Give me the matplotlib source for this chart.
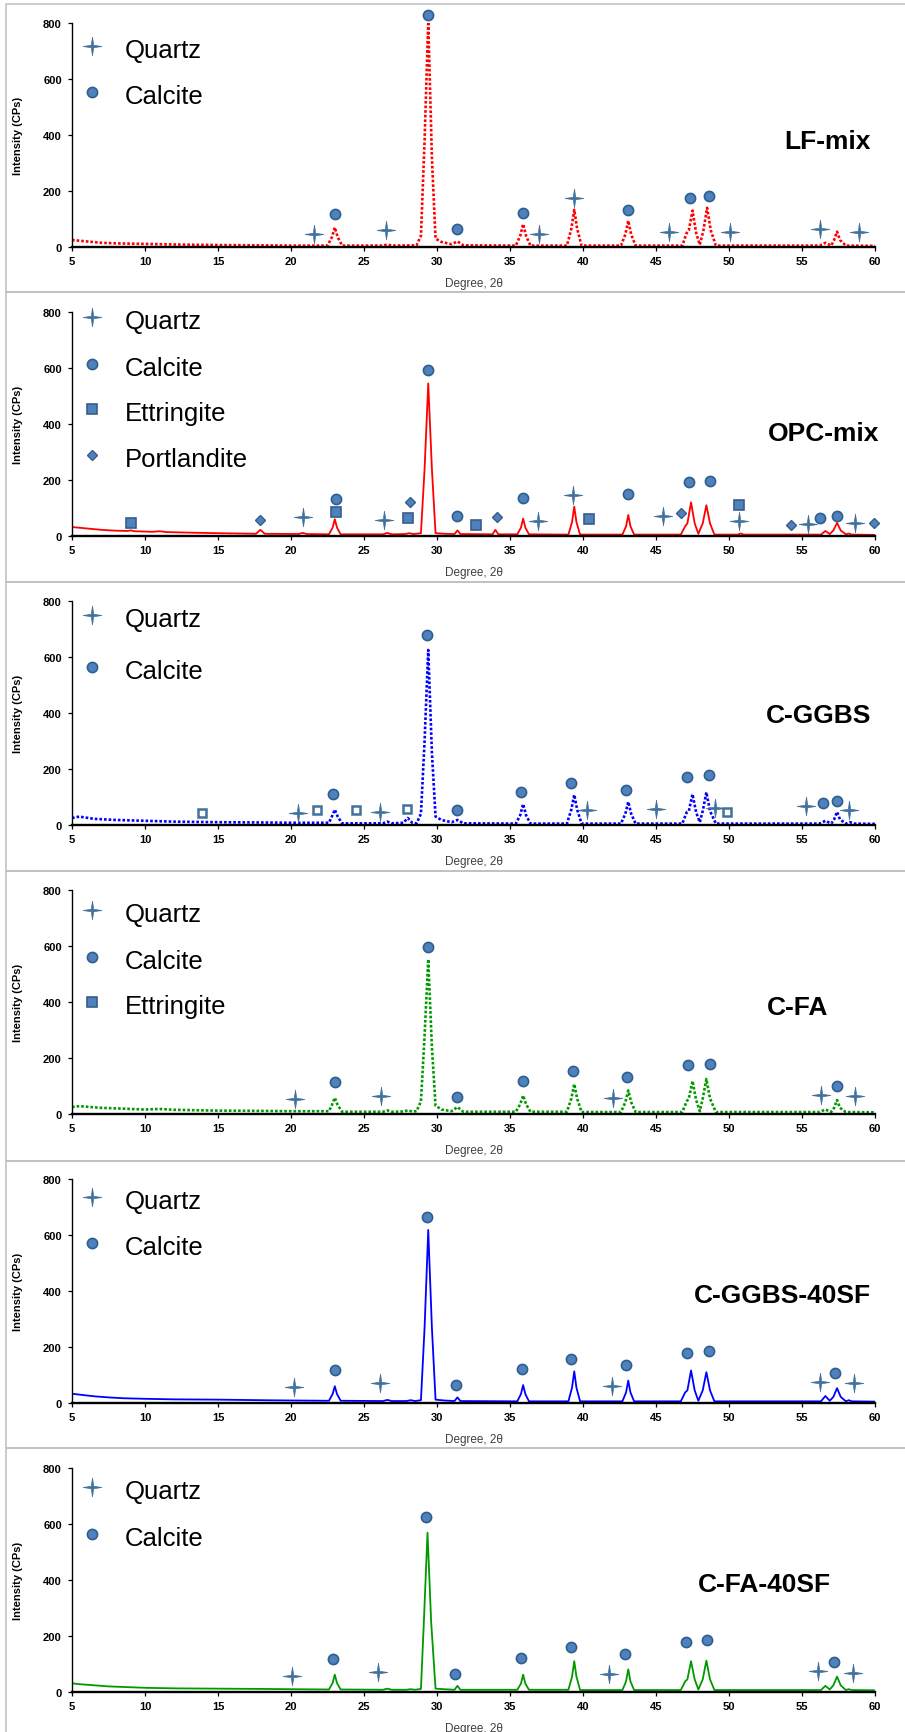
import matplotlib
matplotlib.use("Agg")
import matplotlib.pyplot as plt
from matplotlib.path import Path
from matplotlib.patches import Rectangle

plt.rcParams['font.family'] = ['Liberation Sans', 'DejaVu Sans']

# ---- data (2theta, CPs) ----
lf_x = [5, 6, 7, 8, 10, 12, 15, 18, 20, 22.5, 22.8, 23.0, 23.2, 23.5, 26.3, 26.6, 26.9,
        28.6, 28.9, 29.15, 29.4, 29.65, 29.9, 30.3, 31.0, 31.4, 31.8, 35.4, 35.7, 35.9, 36.1, 36.4,
        38.9, 39.2, 39.4, 39.6, 39.9, 42.6, 42.9, 43.1, 43.3, 43.6,
        46.8, 47.1, 47.25, 47.5, 47.75, 48.0, 48.25, 48.5, 48.75, 49.1,
        56.2, 56.6, 57.0, 57.2, 57.4, 57.6, 58.0, 60]
lf_y = [25, 20, 15, 13, 11, 9, 7, 6, 5, 5, 35, 70, 35, 5, 5, 9, 5,
        6, 40, 380, 805, 320, 30, 18, 10, 20, 6, 5, 40, 82, 40, 5,
        5, 65, 133, 65, 5, 5, 45, 94, 45, 5,
        5, 50, 60, 130, 50, 8, 60, 140, 60, 5,
        5, 15, 5, 25, 55, 25, 5, 4]

opc_x = [5, 6, 7, 8, 8.8, 9.0, 9.3, 10.5, 11.0, 11.5, 13, 15, 17.6, 17.9, 18.2, 20.5, 20.8, 21.1,
         22.6, 22.85, 23.0, 23.15, 23.4, 26.3, 26.6, 26.9, 27.8, 28.1, 28.4,
         28.9, 29.15, 29.4, 29.65, 29.9, 30.5, 31.2, 31.4, 31.6, 33.8, 34.0, 34.2,
         35.5, 35.75, 35.9, 36.05, 36.3, 39.0, 39.25, 39.4, 39.55, 39.8, 42.7, 42.95, 43.1, 43.25, 43.5,
         46.7, 47.0, 47.15, 47.4, 47.65, 47.9, 48.2, 48.45, 48.7, 49.0, 50.6, 50.8, 51.0,
         56.3, 56.6, 56.9, 57.15, 57.4, 57.65, 58.0, 58.2, 58.4, 60]
opc_y = [32, 27, 22, 19, 18, 20, 17, 15, 17, 14, 12, 10, 8, 22, 8, 7, 11, 7,
         6, 30, 60, 30, 6, 6, 11, 6, 7, 10, 7,
         10, 240, 545, 240, 10, 8, 7, 20, 7, 6, 22, 6,
         6, 30, 62, 30, 6, 5, 50, 105, 50, 5, 5, 35, 75, 35, 5,
         5, 35, 45, 120, 45, 8, 45, 110, 45, 5, 5, 9, 5,
         5, 18, 7, 20, 47, 20, 6, 9, 5, 4]

gg_x = [5, 5.5, 6.5, 8, 10, 12, 15, 18, 20, 22, 22.6, 22.8, 23.0, 23.2, 23.5, 26.3, 26.6, 26.9,
        27.7, 28.0, 28.3, 28.6, 28.9, 29.15, 29.4, 29.65, 29.9, 30.3, 31.0, 31.4, 31.8,
        35.4, 35.7, 35.9, 36.1, 36.4, 38.9, 39.2, 39.4, 39.6, 39.9, 42.6, 42.9, 43.1, 43.3, 43.6,
        46.8, 47.1, 47.25, 47.5, 47.75, 48.0, 48.2, 48.45, 48.7, 49.1,
        56.2, 56.6, 57.0, 57.2, 57.4, 57.6, 58.0, 58.3, 58.6, 60]
gg_y = [25, 30, 22, 18, 15, 12, 10, 9, 8, 8, 8, 30, 55, 30, 6, 6, 12, 6,
        8, 25, 8, 6, 40, 300, 625, 260, 30, 18, 10, 18, 6,
        5, 35, 75, 35, 5, 5, 55, 108, 55, 5, 5, 40, 83, 40, 5,
        5, 45, 50, 110, 45, 10, 50, 117, 50, 5,
        5, 15, 5, 20, 47, 20, 5, 10, 5, 4]

fa_x = [5, 5.5, 7, 8, 10, 11, 12, 15, 18, 20, 22.6, 22.8, 23.0, 23.2, 23.5, 26.3, 26.6, 26.9,
        27.7, 28.0, 28.3, 28.6, 28.9, 29.15, 29.4, 29.65, 29.9, 30.3, 31.0, 31.4, 31.8,
        35.4, 35.7, 35.9, 36.1, 36.4, 38.9, 39.2, 39.4, 39.6, 39.9, 42.6, 42.9, 43.1, 43.3, 43.6,
        46.8, 47.1, 47.25, 47.5, 47.75, 48.0, 48.2, 48.45, 48.7, 49.1,
        56.2, 56.6, 57.0, 57.2, 57.4, 57.6, 58.0, 60]
fa_y = [25, 28, 22, 20, 16, 18, 15, 12, 11, 10, 10, 32, 58, 32, 8, 8, 13, 8,
        9, 13, 9, 10, 45, 280, 553, 240, 30, 16, 10, 25, 8,
        8, 35, 66, 35, 8, 8, 55, 107, 55, 7, 7, 42, 84, 42, 7,
        7, 45, 55, 118, 50, 10, 55, 125, 55, 7,
        7, 16, 7, 22, 50, 22, 7, 6]

ggsf_x = [5, 5.5, 6.5, 7.5, 8.5, 10, 12, 15, 18, 20, 22.6, 22.85, 23.0, 23.15, 23.4, 26.3, 26.6, 26.9,
          27.9, 28.2, 28.5, 28.9, 29.15, 29.4, 29.65, 29.9, 30.5, 31.2, 31.4, 31.6,
          35.5, 35.75, 35.9, 36.05, 36.3, 39.0, 39.25, 39.4, 39.55, 39.8, 42.7, 42.95, 43.1, 43.25, 43.5,
          46.7, 47.0, 47.15, 47.4, 47.65, 47.9, 48.2, 48.45, 48.7, 49.0,
          56.3, 56.6, 56.9, 57.15, 57.4, 57.65, 58.0, 58.2, 58.4, 60]
ggsf_y = [33, 30, 24, 20, 17, 15, 13, 12, 10, 9, 8, 32, 60, 32, 8, 7, 11, 7,
          7, 10, 7, 10, 270, 618, 270, 12, 9, 7, 20, 7,
          6, 32, 64, 32, 6, 6, 55, 113, 55, 6, 6, 38, 80, 38, 6,
          6, 38, 45, 116, 45, 8, 45, 110, 45, 6,
          6, 25, 8, 22, 53, 22, 6, 10, 6, 5]

fasf_x = [5, 5.5, 6.5, 7.5, 8.5, 10, 12, 15, 18, 20, 22.6, 22.85, 23.0, 23.15, 23.4, 26.3, 26.6, 26.9,
          27.9, 28.2, 28.5, 28.9, 29.1, 29.35, 29.6, 29.9, 30.5, 31.2, 31.4, 31.6,
          35.5, 35.75, 35.9, 36.05, 36.3, 39.0, 39.25, 39.4, 39.55, 39.8, 42.7, 42.95, 43.1, 43.25, 43.5,
          46.7, 47.0, 47.15, 47.4, 47.65, 47.9, 48.2, 48.45, 48.7, 49.0,
          56.3, 56.6, 56.9, 57.15, 57.4, 57.65, 58.0, 58.2, 58.4, 60]
fasf_y = [31, 28, 24, 20, 18, 15, 13, 12, 11, 10, 9, 32, 62, 32, 9, 8, 12, 8,
          8, 10, 8, 11, 250, 569, 250, 12, 10, 8, 22, 8,
          8, 30, 62, 30, 8, 8, 55, 110, 55, 7, 7, 38, 81, 38, 7,
          7, 38, 45, 110, 45, 9, 45, 112, 45, 7,
          7, 22, 9, 24, 55, 24, 7, 10, 7, 6]

# phase markers (2theta, height)
lf_quartz = [(21.6, 47), (26.5, 61), (37.0, 46), (39.4, 175), (45.9, 53), (50.1, 53), (56.2, 64), (58.9, 53)]
lf_calcite = [(23.0, 117), (29.4, 829), (31.4, 64), (35.9, 120), (43.1, 133), (47.3, 175), (48.6, 183)]

opc_quartz = [(20.8, 68), (26.4, 57), (36.9, 52), (39.3, 147), (45.5, 73), (50.66, 52), (55.4, 43), (58.6, 45)]
opc_calcite = [(23.06, 131), (29.4, 592), (31.35, 73), (35.9, 134), (43.05, 150), (47.26, 194),
               (48.7, 198), (56.2, 64), (57.4, 73)]
opc_ettringite = [(9.04, 48), (23.1, 87), (28.0, 64), (32.7, 39), (40.4, 61), (50.66, 111)]
opc_portlandite = [(17.9, 57), (28.15, 120), (34.1, 68), (46.7, 81), (54.25, 39), (59.9, 45)]

gg_quartz = [(20.5, 44), (26.07, 48), (40.3, 54), (44.97, 57), (49.07, 61), (55.24, 69), (58.25, 54)]
gg_calcite = [(22.9, 111), (29.3, 678), (31.4, 54), (35.76, 117), (39.2, 150), (42.95, 126),
              (47.1, 171), (48.6, 179), (56.46, 80), (57.4, 84)]
gg_ettringite = [(13.9, 44), (21.77, 54), (24.45, 54), (27.97, 57), (49.86, 48)]

fa_quartz = [(20.3, 54), (26.15, 66), (42.04, 58), (56.27, 69), (58.6, 63)]
fa_calcite = [(23.03, 113), (29.36, 597), (31.4, 60), (35.9, 118), (39.3, 155), (43.03, 133),
              (47.2, 176), (48.68, 180), (57.4, 101)]

ggsf_quartz = [(20.2, 58), (26.07, 71), (41.96, 62), (56.2, 74), (58.56, 71)]
ggsf_calcite = [(23.0, 118), (29.3, 665), (31.3, 64), (35.84, 122), (39.2, 158), (42.95, 137),
                (47.1, 179), (48.6, 184), (57.26, 108)]

fasf_quartz = [(20.1, 58), (25.96, 71), (41.8, 64), (56.08, 76), (58.48, 69)]
fasf_calcite = [(22.9, 117), (29.24, 624), (31.25, 64), (35.76, 122), (39.2, 160), (42.87, 137),
                (47.06, 180), (48.5, 184), (57.18, 106)]

# ---- styles ----
star = Path([(0, 1), (0.13, 0.13), (1, 0), (0.13, -0.13), (0, -1), (-0.13, -0.13),
             (-1, 0), (-0.13, 0.13), (0, 1)], closed=True)
mk = {
    'Quartz': dict(marker=star, ms=13.5, mfc='#41719C', mec='#41719C', mew=0.5),
    'Calcite': dict(marker='o', ms=7.3, mfc='#4F81BD', mec='#2F5F8F', mew=1.2),
    'Ettringite': dict(marker='s', ms=7.0, mfc='#4F81BD', mec='#385D8A', mew=1.2),
    'Portlandite': dict(marker='D', ms=5.0, mfc='#4F81BD', mec='#385D8A', mew=1.0),
    'hollow': dict(marker='s', ms=6.3, mfc='white', mec='#41719C', mew=1.8),
}
dotted = (0, (1, 0.75))

panels = [
    dict(name='LF-mix', x=lf_x, y=lf_y, color='#FF0000', ls=dotted, lw=1.9,
         marks=[('Quartz', lf_quartz), ('Calcite', lf_calcite)],
         legend=[('Quartz', 703), ('Calcite', 539)], lab=(59.7, 378)),
    dict(name='OPC-mix', x=opc_x, y=opc_y, color='#FF0000', ls='-', lw=1.3,
         marks=[('Quartz', opc_quartz), ('Calcite', opc_calcite), ('Ettringite', opc_ettringite),
                ('Portlandite', opc_portlandite)],
         legend=[('Quartz', 768), ('Calcite', 600), ('Ettringite', 439), ('Portlandite', 275)],
         lab=(60.3, 368)),
    dict(name='C-GGBS', x=gg_x, y=gg_y, color='#0000FF', ls=dotted, lw=1.9,
         marks=[('Quartz', gg_quartz), ('Calcite', gg_calcite), ('hollow', gg_ettringite)],
         legend=[('Quartz', 736), ('Calcite', 550)], lab=(59.75, 393)),
    dict(name='C-FA', x=fa_x, y=fa_y, color='#009900', ls=dotted, lw=1.9,
         marks=[('Quartz', fa_quartz), ('Calcite', fa_calcite)],
         legend=[('Quartz', 714), ('Calcite', 546), ('Ettringite', 386)], lab=(56.8, 382)),
    dict(name='C-GGBS-40SF', x=ggsf_x, y=ggsf_y, color='#0000FF', ls='-', lw=1.3,
         marks=[('Quartz', ggsf_quartz), ('Calcite', ggsf_calcite)],
         legend=[('Quartz', 721), ('Calcite', 557)], lab=(59.7, 386)),
    dict(name='C-FA-40SF', x=fasf_x, y=fasf_y, color='#009900', ls='-', lw=1.3,
         marks=[('Quartz', fasf_quartz), ('Calcite', fasf_calcite)],
         legend=[('Quartz', 718), ('Calcite', 550)], lab=(57.0, 386)),
]

W, H = 905, 1733
fig = plt.figure(figsize=(W / 100, H / 100), dpi=100)

ax_bottom = [248, 537, 826, 1115, 1404, 1693]
box_top = [5, 293, 583, 872, 1162, 1449]
box_bot = [293, 583, 872, 1162, 1449, 1740]

for i, p in enumerate(panels):
    # grey panel frame, open on the right edge of the image
    fig.add_artist(Rectangle((6 / W, 1 - box_bot[i] / H), (920 - 6) / W, (box_bot[i] - box_top[i]) / H,
                             transform=fig.transFigure, fill=False, ec='#BFBFBF', lw=1.1))
    ax = fig.add_axes([72 / W, 1 - ax_bottom[i] / H, (875 - 72) / W, 224 / H])
    ax.plot(p['x'], p['y'], color=p['color'], ls=p['ls'], lw=p['lw'], zorder=2)
    for kind, pts in p['marks']:
        ax.plot([a for a, b in pts], [b for a, b in pts], ls='none', zorder=3, clip_on=False, **mk[kind])
    for kind, ly in p['legend']:
        ax.plot([6.35], [ly + 15], ls='none', clip_on=False, **mk[kind])
        ax.text(8.6, ly, kind, fontsize=18.5, va='center', ha='left')
    ax.text(p['lab'][0], p['lab'][1], p['name'], fontsize=19, fontweight='bold', ha='right', va='center')

    ax.set_xlim(5, 60)
    ax.set_ylim(0, 800)
    ax.set_xticks(range(5, 61, 5))
    ax.set_yticks(range(0, 801, 200))
    for s in ['top', 'right']:
        ax.spines[s].set_visible(False)
    ax.spines['left'].set_linewidth(1.0)
    ax.spines['bottom'].set_linewidth(1.7)
    ax.tick_params(direction='out', length=2.8, width=0.9, labelsize=8)
    ax.tick_params(axis='x', pad=3.5)
    ax.tick_params(axis='y', pad=4.5)
    for t in ax.get_xticklabels() + ax.get_yticklabels():
        t.set_fontweight('bold')
    ax.set_ylabel('Intensity (CPs)', fontsize=8, fontweight='bold')
    ax.yaxis.set_label_coords(-0.061, 0.5)
    ax.set_xlabel('Degree, 2θ', fontsize=8.5, color='#404040')
    ax.xaxis.set_label_coords(0.5, -0.135)
    ax.patch.set_alpha(0)

fig.savefig('out.png', dpi=100)
